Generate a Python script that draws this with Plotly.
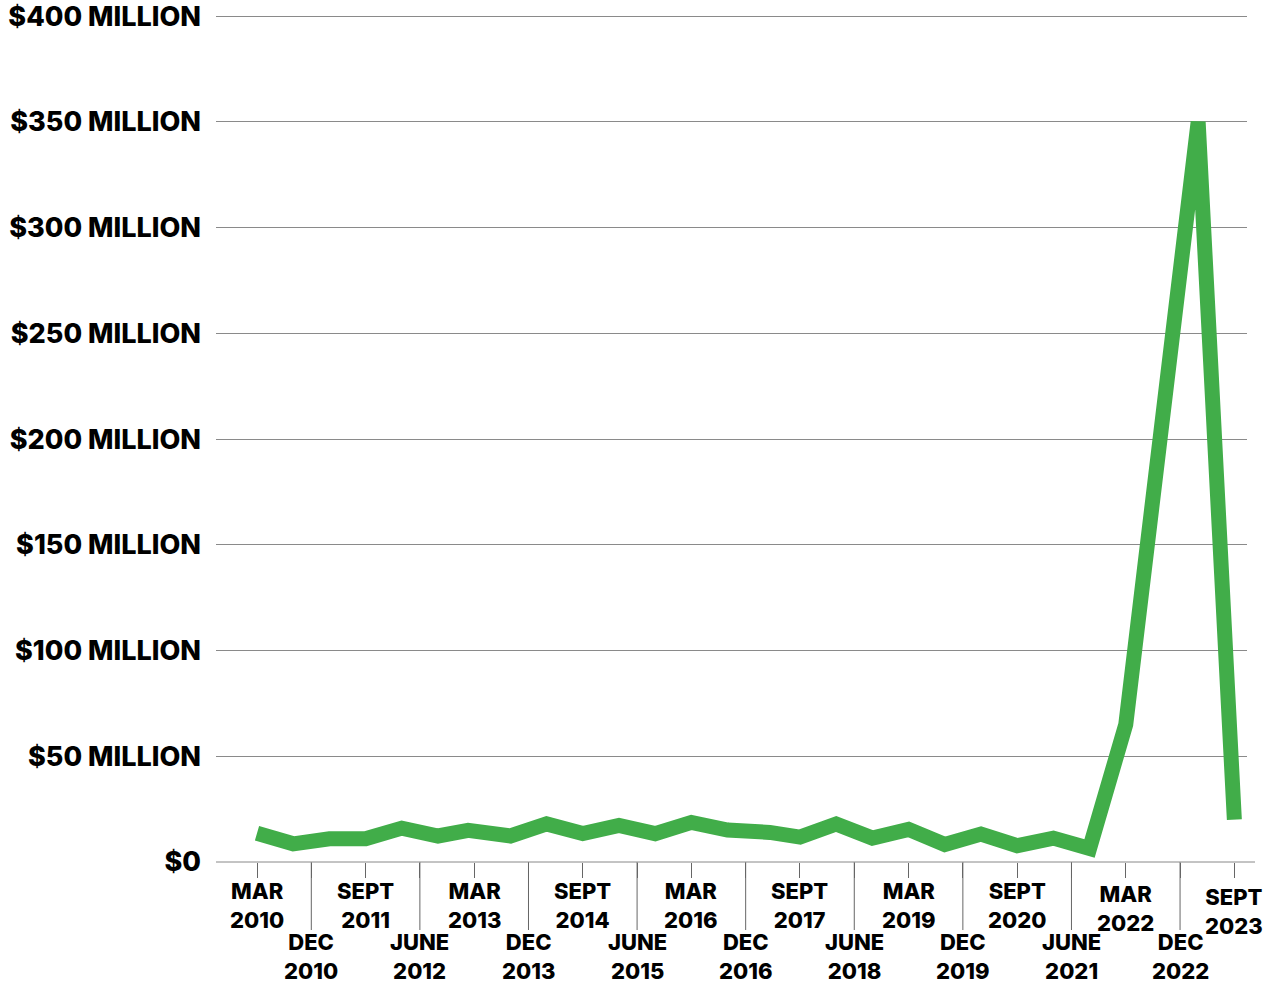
import plotly.graph_objects as go

# ---- data (x = months since March 2010, y = $ millions) ----
months = [0, 6, 12, 18, 24, 30, 35, 37, 42, 48, 54, 60, 66, 72, 78, 85, 90, 96,
          102, 108, 114, 120, 126, 132, 138, 144, 150, 156, 162]
values = [13.6, 8.6, 11, 11, 16, 12.3, 15, 14.6, 12.3, 18, 13.5, 17.3, 13.4, 18.7,
          15.1, 14.0, 11.8, 18.0, 11.3, 15.4, 8.3, 13.2, 7.7, 11.3, 6.4, 65, 205, 350, 20]

tick_months = [0, 9, 18, 27, 36, 45, 54, 63, 72, 81, 90, 99, 108, 117, 126, 135, 144, 153, 162]
tick_line1 = ["MAR", "DEC", "SEPT", "JUNE", "MAR", "DEC", "SEPT", "JUNE", "MAR", "DEC",
              "SEPT", "JUNE", "MAR", "DEC", "SEPT", "JUNE", "MAR", "DEC", "SEPT"]
tick_line2 = ["2010", "2010", "2011", "2012", "2013", "2013", "2014", "2015", "2016", "2016",
              "2017", "2018", "2019", "2019", "2020", "2021", "2022", "2022", "2023"]

y_ticks = [0, 50, 100, 150, 200, 250, 300, 350, 400]
y_labels = ["$0", "$50 MILLION", "$100 MILLION", "$150 MILLION", "$200 MILLION",
            "$250 MILLION", "$300 MILLION", "$350 MILLION", "$400 MILLION"]

# ---- layout geometry ----
W, H = 1270, 987
L, R, T, B = 216, 23, 14, 125
plot_h = H - T - B
Y_MAX = 401


def py(pix):
    """pixel row -> paper y"""
    return (H - B - pix) / plot_h


FONT = "Inter, Lato, Arial, sans-serif"
GREEN = "#41ad49"

fig = go.Figure()
fig.add_trace(go.Scatter(
    x=months, y=values, mode="lines",
    line=dict(color=GREEN, width=15),
    hoverinfo="skip", showlegend=False,
))

annotations = []
shapes = []
extra_dy = {16: 3, 18: 6}
for i, (m, a, b) in enumerate(zip(tick_months, tick_line1, tick_line2)):
    if i % 2 == 0:
        ymid = 905
    else:
        ymid = 956
        shapes.append(dict(type="line", xref="x", yref="paper", x0=m, x1=m,
                           y0=0, y1=py(930), line=dict(color="#666666", width=1)))
    ymid += extra_dy.get(i, 0)
    annotations.append(dict(
        x=m, y=py(ymid), xref="x", yref="paper", text=f"{a}<br>{b}", showarrow=False,
        xanchor="center", yanchor="middle",
        font=dict(family=FONT, size=22, color="black", weight=800),
    ))

# extended baseline
shapes.append(dict(type="line", xref="paper", yref="paper", x0=0,
                   x1=(1255 - L) / (W - L - R), y0=0, y1=0,
                   line=dict(color="#888888", width=1)))

fig.update_layout(
    width=W, height=H,
    margin=dict(l=L, r=R, t=T, b=B, pad=0, autoexpand=False),
    plot_bgcolor="white", paper_bgcolor="white",
    annotations=annotations, shapes=shapes,
    xaxis=dict(
        range=[(216 - 257) / 6.033, (1247 - 257) / 6.033],
        tickmode="array", tickvals=tick_months, showticklabels=False,
        ticks="outside", ticklen=15, tickcolor="#666666", tickwidth=1,
        showgrid=False, zeroline=False, showline=False, automargin=False,
    ),
    yaxis=dict(
        range=[0, Y_MAX], tickmode="array", tickvals=y_ticks, ticktext=y_labels,
        showgrid=True, gridcolor="#8a8a8a", gridwidth=1,
        zeroline=False, showline=False, ticks="", automargin=False,
        ticklabelstandoff=14, ticklabeloverflow="allow",
        tickfont=dict(family=FONT, size=27, color="black", weight=800),
    ),
)

fig.write_html("out.html")
